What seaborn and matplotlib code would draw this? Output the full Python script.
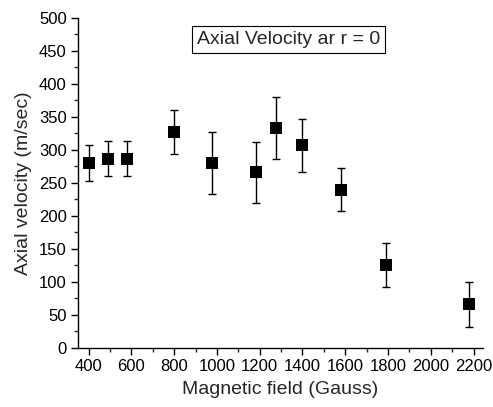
import matplotlib
matplotlib.use("Agg")
import matplotlib.pyplot as plt
import numpy as np
import pandas as pd
import seaborn as sns
from matplotlib.ticker import MultipleLocator

# values
field_gauss = [400, 490, 580, 800, 975, 1185, 1275, 1400, 1580, 1790, 2180]
velocity = [280, 287, 287, 327, 280, 266, 333, 307, 240, 126, 66]
velocity_err = [27, 27, 27, 33, 47, 46, 47, 40, 33, 33, 34]
label_text = "Axial Velocity ar r = 0"

data = pd.DataFrame({"field": field_gauss, "velocity": velocity, "err": velocity_err})

sns.set_style("ticks")
plt.rcParams["font.family"] = ["Liberation Sans", "DejaVu Sans"]

fig = plt.figure(figsize=(4.93, 4.07), dpi=100)
ax = fig.add_axes([0.158, 0.145, 0.822, 0.811])

ax.errorbar(data["field"], data["velocity"], yerr=data["err"], fmt="none",
            ecolor="black", elinewidth=1.0, capsize=2.6, capthick=1.0, zorder=2)
sns.scatterplot(data=data, x="field", y="velocity", marker="s", s=70,
                color="black", edgecolor="black", linewidth=0, ax=ax, zorder=3)

ax.set_xlim(350, 2245)
ax.set_ylim(0, 500)
ax.xaxis.set_major_locator(MultipleLocator(200))
ax.xaxis.set_minor_locator(MultipleLocator(100))
ax.yaxis.set_major_locator(MultipleLocator(50))
ax.yaxis.set_minor_locator(MultipleLocator(25))
ax.set_xticks(np.arange(400, 2201, 200))

ax.tick_params(which="major", direction="out", length=5, width=1, labelsize=12,
               colors="black", pad=3)
ax.tick_params(which="minor", direction="out", length=3, width=1)
sns.despine(ax=ax)
for side in ["left", "bottom"]:
    ax.spines[side].set_linewidth(1)
    ax.spines[side].set_color("black")

ax.set_xlabel("Magnetic field (Gauss)", fontsize=14, labelpad=5)
ax.set_ylabel("Axial velocity (m/sec)", fontsize=14, labelpad=5)

ax.text(0.52, 0.935, label_text, transform=ax.transAxes, ha="center", va="center",
        fontsize=14, bbox=dict(boxstyle="square,pad=0.25", facecolor="white",
                               edgecolor="black", linewidth=0.8))

fig.savefig("out.png", dpi=100)
